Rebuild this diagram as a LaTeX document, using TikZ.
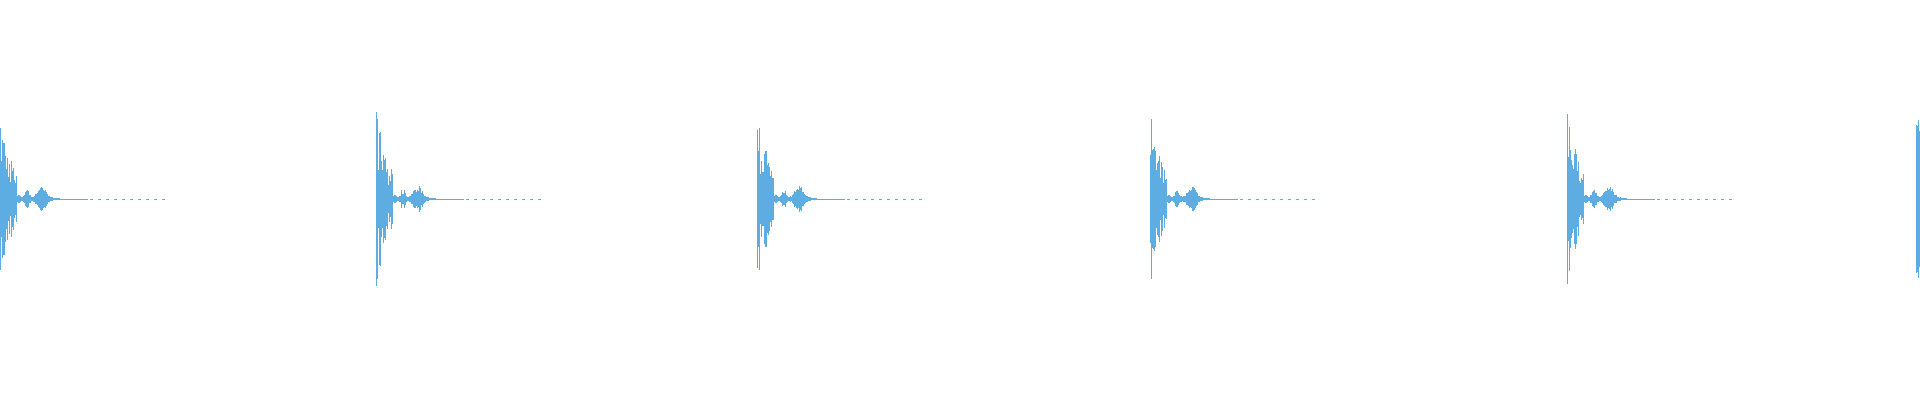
\documentclass[tikz,border=0pt]{standalone}
\definecolor{wave}{HTML}{5DADE2}
\tikzset{wv/.style={wave,line width=0.9pt},tail/.style={wave,line width=0.9pt,dash pattern=on 3pt off 5pt}}
\begin{document}
\begin{tikzpicture}[x=1pt,y=-1pt]
\useasboundingbox (0,0) rectangle (1920,400);
\clip (0,0) rectangle (1920,400);
\pgfmathsetseed{11}
\foreach \s in {0,376,757,1150,1567,1916}{
  \foreach \i in {0,0.7,...,60}{
    \pgfmathsetmacro{\a}{(\i<17 ? 1 : 0)*(30+60*rnd)*exp(-(\i)/14)+12*exp(-((\i-42)/6)^2)*(0.5+0.5*rnd)+9*exp(-((\i-27)/3)^2)*(0.4+0.6*rnd)+3*exp(-((\i-19)/2)^2)+1.2}
    \draw[wv] (\s+\i,199-\a) -- (\s+\i,199+\a);
  }
  \draw[wv] (\s+60,199) -- (\s+88,199);
  \draw[tail] (\s+90,199) -- (\s+167,199);
}
\end{tikzpicture}
\end{document}
